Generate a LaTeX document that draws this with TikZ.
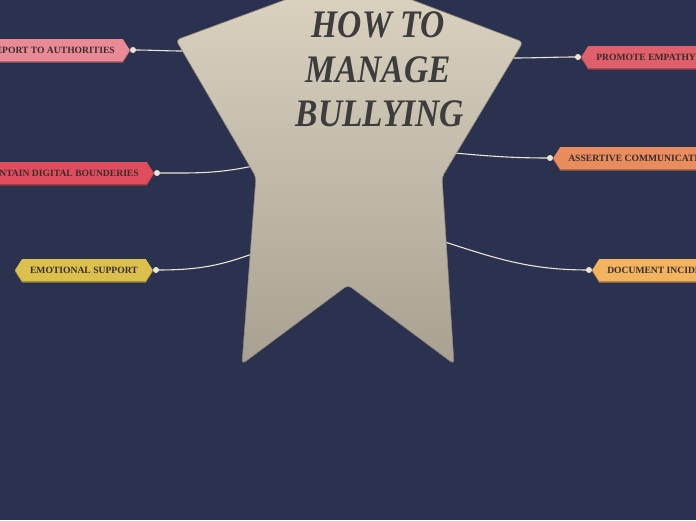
\documentclass[tikz,border=0pt]{standalone}
\usepackage{fontspec}
\setmainfont{Liberation Serif}
\newfontfamily\titlefont[FakeStretch=0.86]{Liberation Serif}
\usetikzlibrary{shapes.symbols}
\definecolor{bg}{HTML}{2B3250}
\definecolor{wire}{HTML}{ECE4D2}
\definecolor{tagtext}{HTML}{3A2C2C}
\definecolor{titletext}{HTML}{3D3D3D}
\definecolor{cpink}{HTML}{E98A96}
\definecolor{cred}{HTML}{E04E5E}
\definecolor{cyel}{HTML}{DCC04E}
\definecolor{crose}{HTML}{DF5F6A}
\definecolor{corange}{HTML}{E98C5E}
\definecolor{camber}{HTML}{F2B45E}
\definecolor{startop}{HTML}{E6DDCA}
\definecolor{starbot}{HTML}{A8A192}
\definecolor{staredge}{HTML}{8F8877}
\tikzset{
  tag/.style={signal, signal to=west and east, signal pointer angle=115,
    fill=#1, preaction={fill=#1!72!black, transform canvas={yshift=-1.6pt}},
    minimum height=22pt, inner xsep=8pt, inner ysep=0pt,
    text=tagtext, font=\fontsize{9.6}{11}\selectfont\bfseries},
  wireline/.style={draw=wire, line width=1.1pt},
  dot/.style={circle, fill=wire, inner sep=0pt, minimum size=6pt},
  title/.style={text=titletext, font=\titlefont\fontsize{39}{45}\selectfont\bfseries\itshape, align=center}
}
\begin{document}
\begin{tikzpicture}[x=1pt,y=-1pt]
\fill[bg] (0,0) rectangle (696,520);
\useasboundingbox (0,0) rectangle (696,520);
\clip (0,0) rectangle (696,520);

% tags
\node[tag=cpink, anchor=east] (t1) at (130,50) {REPORT TO AUTHORITIES};
\node[tag=cred, anchor=east] (t2) at (154,173) {MAINTAIN DIGITAL BOUNDERIES};
\node[tag=cyel, anchor=east] (t3) at (153,270) {EMOTIONAL SUPPORT};
\node[tag=crose, anchor=west] (t4) at (581,57) {PROMOTE EMPATHY};
\node[tag=corange, anchor=west] (t5) at (553,158) {ASSERTIVE COMMUNICATION};
\node[tag=camber, anchor=west] (t6) at (592,270) {DOCUMENT INCIDENTS};

% dots
\node[dot] (d1) at ([xshift=3pt]t1.east) {};
\node[dot] (d2) at ([xshift=3pt]t2.east) {};
\node[dot] (d3) at ([xshift=3pt]t3.east) {};
\node[dot] (d4) at ([xshift=-3pt]t4.west) {};
\node[dot] (d5) at ([xshift=-3pt]t5.west) {};
\node[dot] (d6) at ([xshift=-3pt]t6.west) {};

% star attachment points
\coordinate (s1) at (184,51);
\coordinate (s2) at (253,166);
\coordinate (s3) at (252,254);
\coordinate (s4) at (511,58);
\coordinate (s5) at (454,153);
\coordinate (s6) at (445,242);

\draw[wireline] (s1) to[out=180,in=0] (d1.center);
\draw[wireline] (s2) to[out=192,in=0] (d2.center);
\draw[wireline] (s3) to[out=200,in=0] (d3.center);
\draw[wireline] (s4) to[out=0,in=180] (d4.center);
\draw[wireline] (s5) to[out=-5,in=180] (d5.center);
\draw[wireline] (s6) to[out=-18,in=180] (d6.center);

% star
\path[rounded corners=4pt, top color=startop, bottom color=starbot,
      draw=staredge, line width=0.6pt]
  (349,-95) -- (407,-2) -- (523,42) -- (442,177) -- (454,364) -- (348,285)
  -- (242,364) -- (256,177) -- (176,40) -- (290,-2) -- cycle;

% title
\node[title] (title) at (378,25) {HOW TO};
\node[title] (title2) at (378,70) {MANAGE};
\node[title] (title3) at (380,114) {BULLYING};
\end{tikzpicture}
\end{document}
